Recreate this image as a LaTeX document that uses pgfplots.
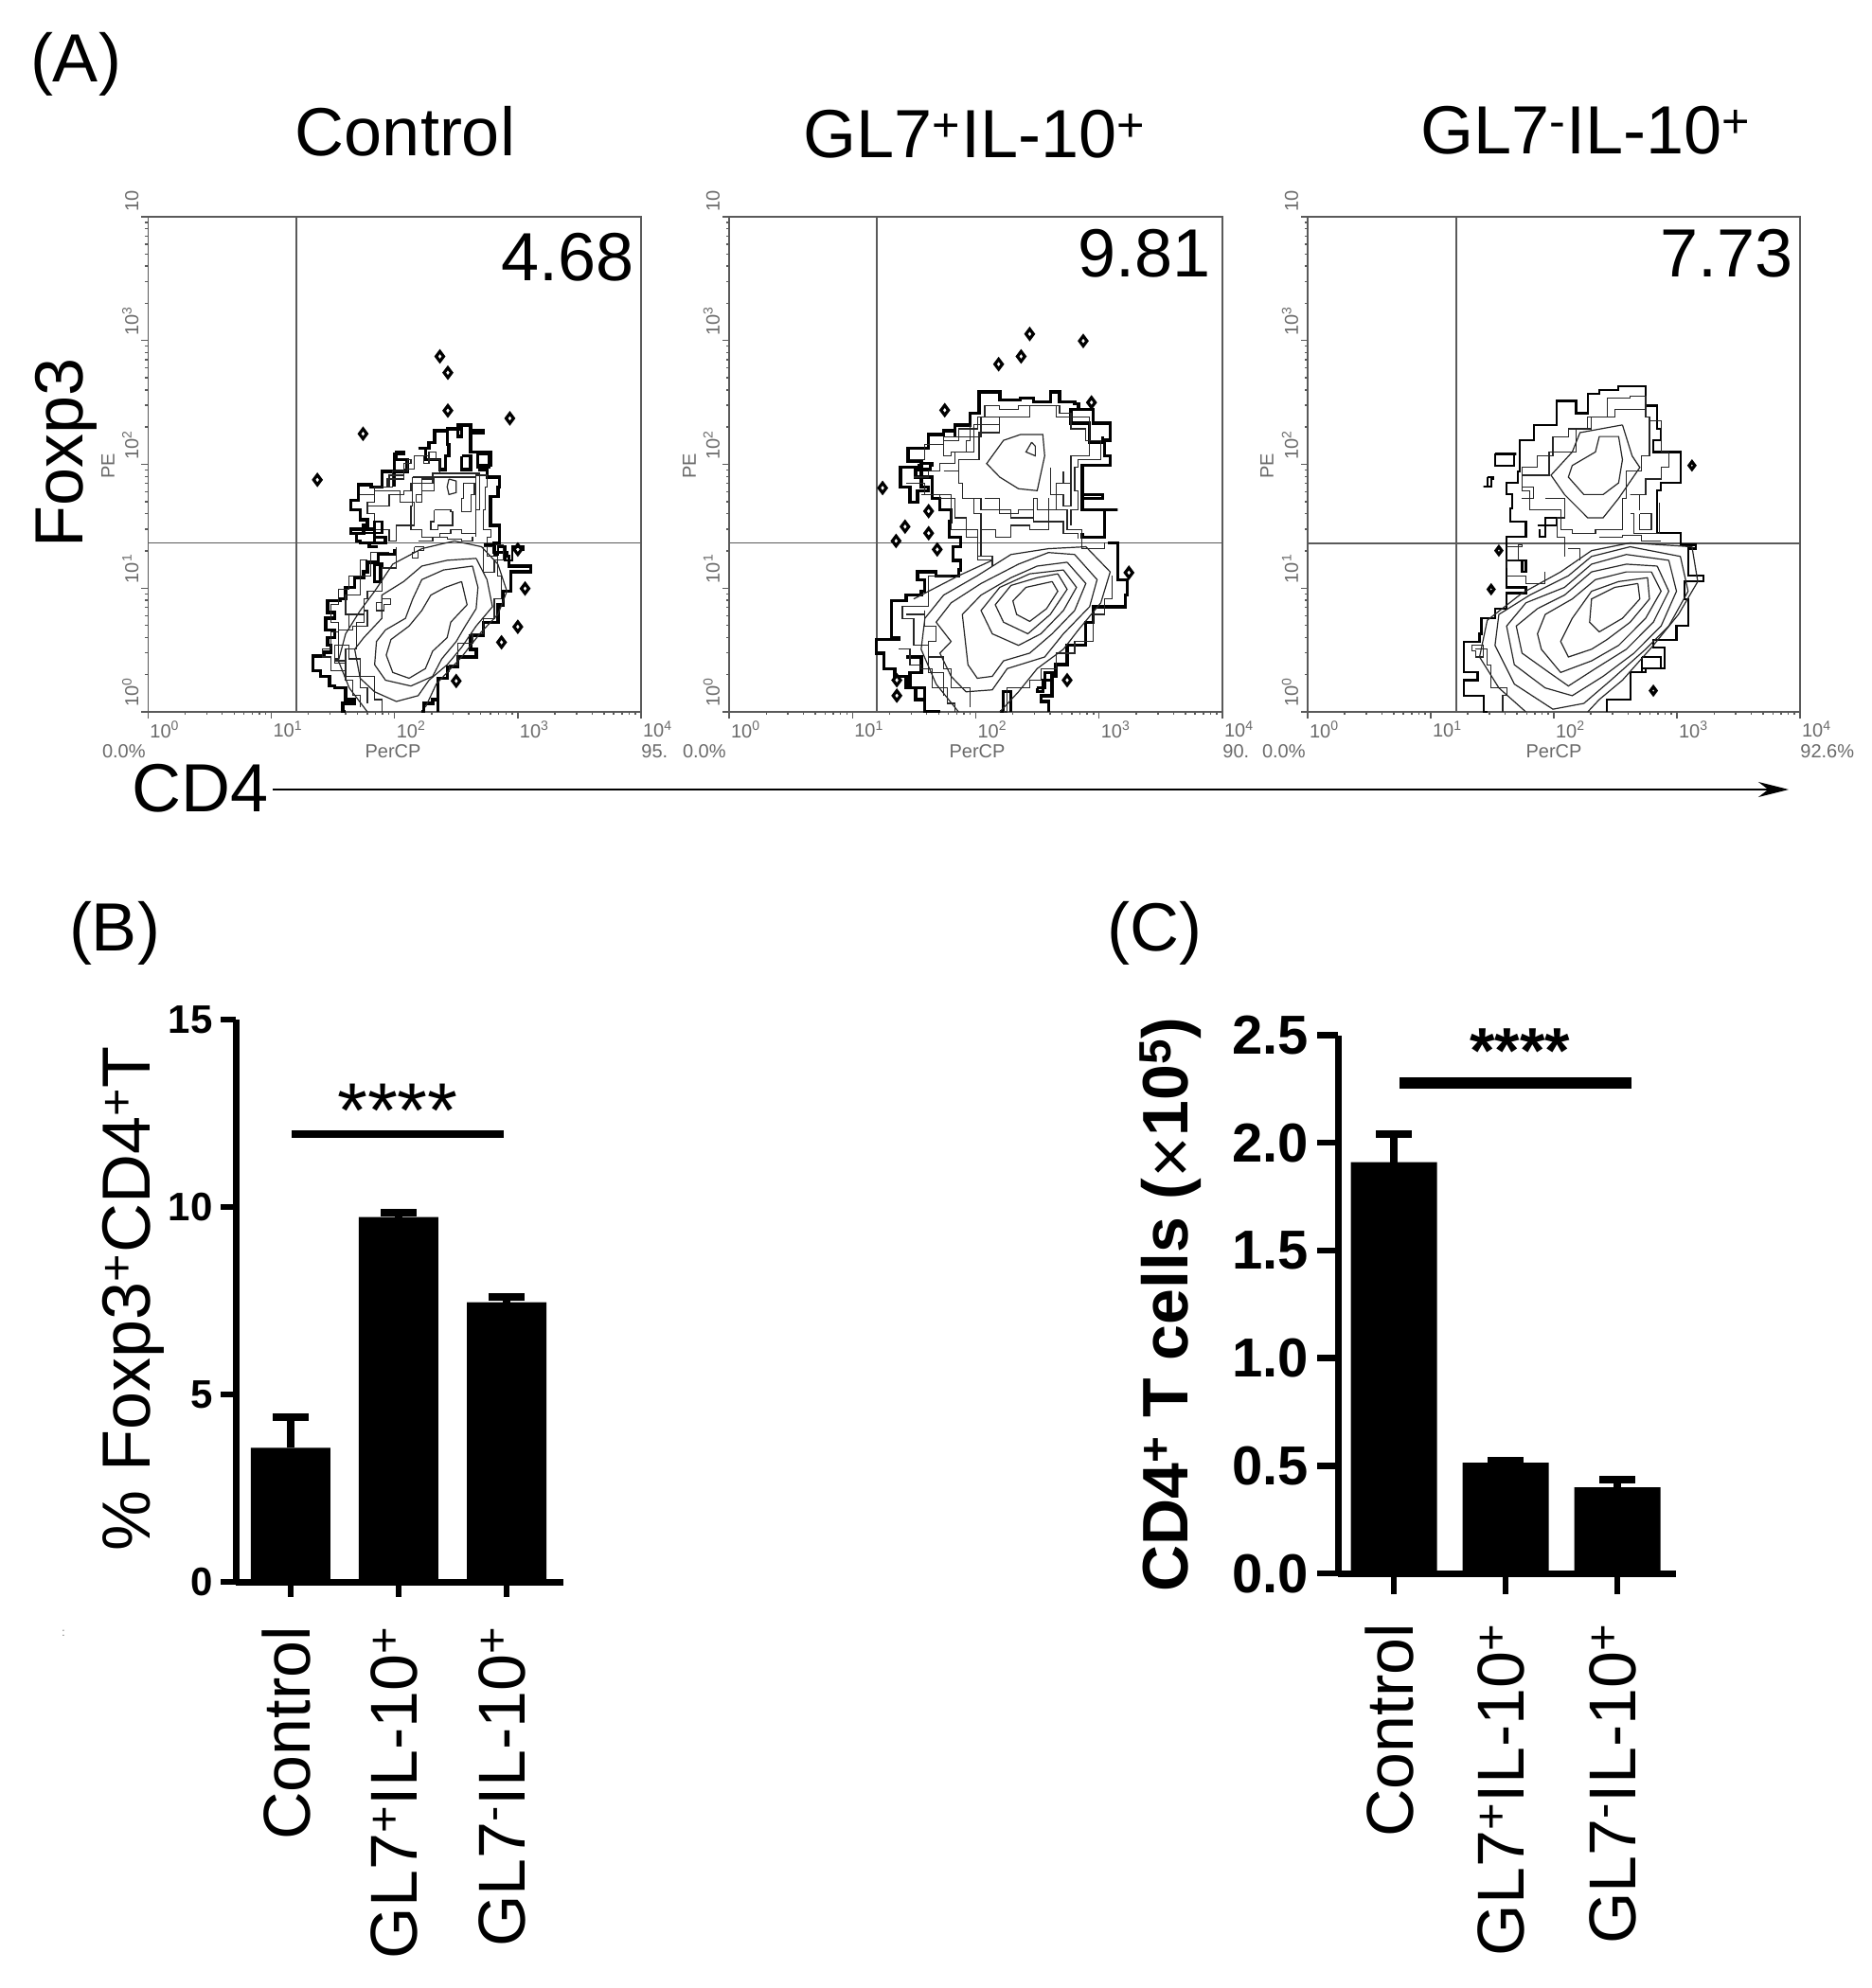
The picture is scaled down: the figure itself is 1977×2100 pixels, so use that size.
\documentclass[border=0pt]{standalone}
\usepackage{fontspec}
\setmainfont{Liberation Sans}
\usepackage{pgfplots}
\pgfplotsset{compat=1.18}
\usetikzlibrary{arrows.meta}
\definecolor{gatecol}{HTML}{5A5A5A}
\definecolor{labcol}{HTML}{6A6A6A}
\newcommand\fs[1]{\fontsize{#1bp}{#1bp}\selectfont}
\def\logminor{0.301,0.477,0.602,0.699,0.778,0.845,0.903,0.954,1.301,1.477,1.602,1.699,1.778,1.845,1.903,1.954,2.301,2.477,2.602,2.699,2.778,2.845,2.903,2.954,3.301,3.477,3.602,3.699,3.778,3.845,3.903,3.954}
\pgfplotsset{
  flow/.style={
    scale only axis,anchor=south west,
    xmin=0,xmax=4,ymin=0,ymax=4,
    xtick={0,1,2,3,4},ytick={0,1,2,3,4},
    minor xtick=\logminor,minor ytick=\logminor,
    xticklabels={10\textsuperscript{0},10\textsuperscript{1},10\textsuperscript{2},10\textsuperscript{3},10\textsuperscript{4}},
    yticklabels={10\textsuperscript{0},10\textsuperscript{1},10\textsuperscript{2},10\textsuperscript{3},10},
    xtick pos=bottom,ytick pos=left,tick align=outside,
    major tick length=3.5bp,minor tick length=1.5bp,
    tick style={gatecol,line width=0.7bp},
    axis line style={gatecol,line width=0.9bp},
    xticklabel style={font=\fs{10},text=labcol,anchor=north west,xshift=-2.5bp,yshift=2bp},
    yticklabel style={font=\fs{10},text=labcol,rotate=90,anchor=south west,xshift=-1bp,yshift=-2bp},
  },
  gate/.style={gatecol,line width=0.9bp,forget plot},
  edge/.style={black,line width=1.7bp,line join=miter,const plot,forget plot},
  frag/.style={black!85,line width=0.6bp,const plot,forget plot},
  cont/.style={black!85,line width=0.6bp,forget plot},
  dots/.style={only marks,mark=diamond,mark size=2.6bp,mark options={black,line width=1.6bp},forget plot},
  prism/.style={
    scale only axis,anchor=south west,
    axis lines=left,axis line style={-,line width=3.5bp},
    ymin=0,clip=false,
    xtick={0,1,2},
    xticklabels={Control,GL7\textsuperscript{+}IL-10\textsuperscript{+},GL7\textsuperscript{-}IL-10\textsuperscript{+}},
    tick align=outside,major tick length=8bp,
    tick style={black,line width=3.2bp},
    % the shifts of a turned label run along the turned text
    xticklabel style={font=\fs{35},rotate=90,anchor=east,xshift=-12bp,yshift=2.4bp},
  },
}
\begin{document}
\begin{tikzpicture}[x=0.5bp,y=-0.5bp]
\useasboundingbox (0,0) rectangle (1977,2100);

% panel A, contour traces typed in pixels of the enlarged crop, filters turn them into decades
\begin{axis}[flow,at={(78.2bp,-376bp)},width=260.3bp,height=261.5bp,
  x filter/.expression={(x-95)/340},y filter/.expression={(1352-y)/320}]
\addplot[gate] coordinates {(505,72)(505,1352)};
\addplot[gate] coordinates {(95,915)(1455,915)};
\addplot[edge] coordinates {(640,1352)(632,1330)(665,1320)(640,1290)(610,1285)(595,1260)(570,1245)(550,1208)(580,1198)(600,1180)(590,1160)(610,1140)(585,1110)(610,1095)(590,1065)(625,1060)(640,1030)(665,1005)(690,990)(700,965)(730,945)(775,930)};
\addplot[edge] coordinates {(730,925)(705,915)(750,900)(720,880)(655,890)(690,870)(700,855)(680,830)(655,805)(675,765)(710,770)(740,730)(775,685)(800,680)(780,700)(810,730)(775,770)};
\addplot[edge] coordinates {(840,670)(870,655)(885,625)(920,620)(960,640)(950,610)(985,625)(1020,630)(985,650)(985,680)(1040,690)(1040,715)(1010,725)(1030,745)(1065,770)(1060,795)(1040,810)(1040,870)(1065,890)(1065,915)(1050,940)(1085,950)(1090,975)(1150,990)(1095,1005)(1095,1040)(1075,1075)(1060,1120)(1020,1155)(985,1190)(1000,1210)(950,1235)(920,1265)(895,1290)(895,1352)};
\addplot[edge] coordinates {(840,670)(860,700)(900,725)(915,690)(925,660)(920,620)};
\addplot[edge] coordinates {(720,970)(740,975)(735,1015)(720,1010)(720,970)};
\addplot[edge] coordinates {(960,690)(985,690)(985,725)(960,725)(960,690)};
\addplot[edge] coordinates {(1005,685)(1040,690)(1035,720)(1010,720)(1005,685)};
\addplot[edge] coordinates {(850,1352)(855,1330)(880,1320)(895,1300)};
\addplot[cont] coordinates {(960,1015)(975,1075)(930,1120)(920,1160)(880,1195)(860,1240)(815,1265)(770,1250)(752,1205)(765,1165)(815,1130)(850,1090)(875,1050)(915,1030)(960,1015)};
\addplot[cont] coordinates {(990,975)(1005,1030)(1000,1085)(970,1130)(945,1170)(905,1215)(880,1260)(820,1285)(750,1270)(720,1230)(725,1170)(750,1140)(805,1110)(825,1060)(850,1010)(910,985)(990,975)};
\addplot[cont] coordinates {(1000,955)(1030,1010)(1045,1080)(1000,1130)(960,1185)(920,1230)(870,1270)(840,1310)(780,1325)(720,1300)(680,1265)(665,1190)(690,1160)(740,1110)(740,1050)(800,1015)(850,975)(920,960)(1000,955)};
\addplot[cont] coordinates {(860,1340)(890,1280)(960,1210)(1010,1150)(1060,1100)(1085,1040)(1060,970)(1015,925)(940,910)(850,930)(770,970)(720,1040)(680,1090)(640,1150)(620,1220)(650,1290)(700,1352)};
\addplot[frag] coordinates {(650,1100)(690,1090)(700,1130)(660,1140)(650,1100)};
\addplot[frag] coordinates {(620,1180)(650,1190)(640,1225)(610,1215)(620,1180)};
\addplot[frag] coordinates {(740,1060)(765,1075)(745,1090)(725,1070)(740,1060)};
\addplot[frag] coordinates {(830,925)(855,935)(840,955)(825,940)(830,925)};
\addplot[frag] coordinates {(1020,925)(1045,920)(1075,960)(1050,990)(1020,925)};
\addplot[frag] coordinates {(825,745)(930,745)(990,745)(1000,800)(1000,890)(960,880)(930,890)(900,900)(850,880)(820,820)(825,745)};
\addplot[cont] coordinates {(925,750)(945,755)(945,785)(925,790)(920,770)(925,750)};
\addplot[frag] coordinates {(885,830)(930,835)(935,870)(895,880)(875,860)(885,830)};
\addplot[frag] coordinates {(720,780)(790,810)(830,870)(780,910)(760,880)(720,840)(700,810)(720,780)};
\addplot[frag] coordinates {(850,750)(880,745)(885,780)(850,810)(835,790)(850,750)};
\addplot[frag] coordinates {(965,760)(995,790)(985,835)(960,800)(965,760)};
\addplot[frag] coordinates {(800,710)(820,700)(810,730)(770,770)(755,750)(800,710)};
\addplot[frag] coordinates {(870,680)(890,700)(870,710)(855,690)(870,680)};
\addplot[frag] coordinates {(680,790)(720,770)(760,740)(800,725)(830,690)(870,700)(900,735)(950,735)(1000,740)(1030,770)(1025,830)(1020,880)(1040,900)(1030,950)(1060,1000)(1070,1060)(1050,1110)(1020,1150)(990,1175)(950,1230)(925,1250)};
\addplot[frag] coordinates {(700,960)(680,1000)(650,1035)(620,1075)(600,1120)(620,1145)(600,1190)(575,1210)(600,1245)(640,1270)(660,1310)(680,1340)};
\addplot[frag] coordinates {(760,940)(710,1000)(680,1050)(640,1100)(650,1140)(620,1180)(610,1220)(640,1260)(680,1290)(700,1330)};
\addplot[frag] coordinates {(780,925)(780,980)(740,1040)(700,1060)(690,1120)(670,1190)(650,1215)(680,1260)(720,1320)(740,1352)};
\addplot[frag] coordinates {(700,820)(760,790)(800,780)(820,760)(880,735)(990,735)(1010,770)(1010,830)(1000,900)};
\addplot[edge,line width=1.2bp] coordinates {(670,890)(720,860)(740,890)(720,915)(680,910)(670,890)};
\addplot[frag] coordinates {(840,910)(880,900)(920,905)(960,910)(990,900)};
\addplot[edge,line width=1.2bp] coordinates {(1020,920)(1050,945)(1060,925)(1080,960)(1100,925)(1130,935)};
\addplot[dots] coordinates {(900,433)(922,475)(922,573)(1093,593)(688,633)(562,752)(1115,932)(1135,1033)(1115,1132)(1070,1172)(945,1272)};
\end{axis}

\begin{axis}[flow,at={(385bp,-376bp)},width=260.5bp,height=261.5bp,
  x filter/.expression={(x-127)/329.5},y filter/.expression={(1352-y)/320}]
\addplot[gate] coordinates {(522,72)(522,1352)};
\addplot[gate] coordinates {(127,915)(1445,915)};
\addplot[edge] coordinates {(690,1352)(650,1320)(625,1290)(600,1260)(570,1240)(540,1200)(520,1165)(580,1160)(560,1130)(560,1065)(600,1050)(640,1040)(650,1010)(630,990)(680,1000)(740,985)(745,960)(725,925)(745,900)(715,860)(720,830)(690,800)(670,745)(625,720)(585,730)(585,770)(610,810)(630,780)(660,770)(640,705)(605,670)(660,635)(700,625)(730,640)(730,610)(770,580)(795,575)(795,525)(850,525)(850,545)(905,540)(940,550)(985,525)(1010,550)(1050,555)(1060,570)(1100,605)(1145,650)(1130,690)(1145,715)(1070,740)(1070,800)(1125,790)(1070,830)(1165,830)(1130,850)(1130,900)(1070,890)};
\addplot[edge] coordinates {(1140,915)(1165,960)(1165,1010)(1190,1050)(1185,1080)(1140,1080)(1100,1120)(1080,1180)(1040,1180)(1030,1230)(1000,1260)(990,1310)(960,1325)(980,1352)};
\addplot[edge] coordinates {(635,710)(670,715)(665,725)(635,725)(635,710)};
\addplot[edge] coordinates {(1060,570)(1040,605)(1090,655)(1125,640)};
\addplot[edge] coordinates {(850,1352)(860,1300)(880,1352)};
\addplot[edge] coordinates {(600,1210)(640,1250)(610,1290)(650,1320)};
\addplot[edge] coordinates {(950,1290)(970,1250)(990,1270)(965,1300)(950,1290)};
\addplot[cont] coordinates {(990,1015)(1005,1040)(975,1085)(930,1118)(895,1100)(885,1065)(920,1030)(990,1015)};
\addplot[cont] coordinates {(1005,995)(1030,1035)(985,1100)(925,1150)(860,1120)(838,1075)(880,1025)(950,1005)(1005,995)};
\addplot[cont] coordinates {(1020,985)(1055,1030)(1020,1090)(960,1150)(900,1180)(830,1150)(800,1090)(850,1030)(930,995)(1020,985)};
\addplot[cont] coordinates {(1030,965)(1080,1020)(1050,1090)(990,1150)(930,1200)(860,1220)(830,1260)(790,1265)(765,1230)(750,1100)(800,1050)(880,1005)(950,975)(1030,965)};
\addplot[cont] coordinates {(1050,945)(1110,1010)(1090,1080)(1020,1150)(970,1210)(870,1240)(830,1295)(760,1300)(720,1260)(690,1200)(720,1170)(680,1120)(720,1070)(800,1020)(900,970)(980,940)(1050,945)};
\addplot[cont] coordinates {(850,1352)(900,1300)(950,1240)(1020,1190)(1060,1140)(1120,1070)(1145,990)(1080,925)(980,930)(880,945)(790,1000)(700,1050)(650,1110)(640,1190)(680,1280)(740,1352)};
\addplot[cont] coordinates {(905,635)(965,635)(970,690)(950,780)(900,775)(850,745)(815,710)(860,650)(905,635)};
\addplot[cont] coordinates {(935,655)(945,665)(945,690)(920,680)(935,655)};
\addplot[frag] coordinates {(930,560)(1000,590)(1090,690)(1040,760)(1000,830)(950,800)(940,850)(880,830)(800,800)(750,760)(740,700)(795,630)(850,590)(930,560)};
\addplot[frag] coordinates {(800,590)(850,610)(780,680)(720,690)(700,640)(800,590)};
\addplot[frag] coordinates {(600,760)(650,790)(720,880)(790,960)(830,950)(800,880)};
\addplot[frag] coordinates {(1000,830)(1030,880)(1070,930)(1130,915)};
\addplot[frag] coordinates {(720,1000)(660,1080)(590,1110)(620,1180)(660,1250)(700,1310)};
\addplot[frag] coordinates {(610,700)(650,660)(700,650)(740,620)(790,590)(810,560)(850,570)(900,560)(960,560)(1010,580)(1040,620)(1080,650)(1120,670)(1120,700)(1060,720)(1050,780)(1060,830)(1040,870)};
\addplot[frag] coordinates {(620,745)(660,730)(690,710)(730,680)(760,650)(770,610)};
\addplot[frag] coordinates {(640,790)(690,800)(730,850)(760,900)(790,950)(830,975)};
\addplot[frag] coordinates {(700,730)(740,760)(750,800)(780,840)(800,880)(840,900)(880,870)(930,880)(980,860)(1020,890)(1060,905)};
\addplot[frag] coordinates {(810,800)(850,840)(900,830)(940,860)(980,800)};
\addplot[frag] coordinates {(985,720)(985,790)(1020,820)(1040,760)(1020,730)};
\addplot[frag] coordinates {(580,1190)(610,1230)(640,1240)(670,1290)(710,1330)(730,1352)};
\addplot[frag] coordinates {(600,1100)(650,1090)(650,1130)(680,1170)(660,1210)(700,1240)(720,1290)(770,1340)};
\addplot[cont] coordinates {(620,1060)(700,1020)(740,1000)(830,960)};
\addplot[frag] coordinates {(860,1352)(870,1290)(930,1270)(960,1240)(1000,1200)(1050,1170)(1100,1100)(1130,1060)(1150,1000)};
\addplot[dots] coordinates {(930,375)(1073,393)(907,433)(847,453)(703,572)(1095,552)(537,773)(660,833)(597,873)(660,890)(573,910)(683,932)(1195,992)(575,1310)(1030,1270)(575,1270)};
\end{axis}

\begin{axis}[flow,at={(690.5bp,-376bp)},width=260bp,height=261.5bp,
  x filter/.expression={(x-125)/318.75},y filter/.expression={(1352-y)/320}]
\addplot[gate] coordinates {(509,72)(509,1352)};
\addplot[gate] coordinates {(125,916)(1400,916)};
\addplot[edge,line width=1.1bp] coordinates {(590,1352)(580,1310)(540,1310)(530,1270)(565,1250)(530,1195)(530,1170)(570,1150)(575,1110)(610,1085)(640,1045)(690,1030)(640,985)(640,960)(680,990)(690,960)(640,900)(690,900)(690,860)(650,825)(655,790)(640,760)(670,730)(675,650)(700,650)(710,610)(770,590)(770,548)(820,580)(850,530)(880,520)(930,510)(1000,525)(1000,560)(1030,620)(1040,650)(1020,680)(1090,720)(1090,760)(1040,780)(1030,810)(1030,890)(1090,920)(1130,930)(1110,1000)(1150,1015)(1100,1060)(1110,1130)(1080,1165)(1020,1185)(1050,1240)(990,1250)(960,1290)(960,1320)(900,1352)};
\addplot[edge,line width=1.1bp] coordinates {(610,685)(665,685)(660,715)(625,715)(610,685)};
\addplot[edge,line width=1.1bp] coordinates {(590,745)(605,750)(600,770)(580,770)(590,745)};
\addplot[edge,line width=1.1bp] coordinates {(720,870)(770,850)(740,900)(725,880)};
\addplot[edge,line width=1.1bp] coordinates {(990,1210)(1030,1210)(1040,1240)(1000,1250)(990,1210)};
\addplot[cont] coordinates {(980,1020)(985,1060)(940,1110)(880,1145)(855,1120)(860,1060)(920,1030)(980,1020)};
\addplot[cont] coordinates {(1005,1005)(1010,1060)(960,1120)(900,1165)(860,1190)(800,1210)(780,1170)(810,1110)(860,1040)(930,1015)(1005,1005)};
\addplot[cont] coordinates {(1015,990)(1040,1040)(1000,1110)(930,1180)(860,1220)(780,1250)(730,1190)(720,1150)(740,1100)(810,1060)(870,1010)(950,990)(1015,990)};
\addplot[cont] coordinates {(1030,975)(1060,1040)(1020,1120)(950,1190)(870,1240)(800,1285)(750,1250)(680,1200)(665,1130)(720,1085)(790,1050)(860,990)(950,970)(1030,975)};
\addplot[cont] coordinates {(1060,960)(1080,1040)(1040,1130)(970,1200)(890,1260)(810,1310)(740,1290)(660,1230)(640,1130)(690,1070)(790,1030)(860,970)(950,945)(1060,960)};
\addplot[cont] coordinates {(1090,950)(1110,1040)(1060,1130)(1000,1190)(910,1270)(840,1330)(760,1345)(660,1280)(610,1180)(620,1100)(700,1050)(800,1000)(860,950)(960,925)(1090,950)};
\addplot[cont] coordinates {(850,1352)(880,1320)(940,1270)(1020,1180)(1085,1100)(1135,1015)(1120,925)(960,915)(860,935)(780,990)(680,1045)(590,1115)(570,1210)(620,1290)(690,1352)};
\addplot[cont] coordinates {(880,640)(930,640)(940,700)(930,760)(890,790)(840,790)(800,745)(810,715)(870,680)(880,640)};
\addplot[cont] coordinates {(940,610)(965,690)(985,720)(930,800)(890,850)(850,850)(790,790)(755,740)(810,680)(830,630)(940,610)};
\addplot[frag] coordinates {(920,570)(1000,590)(1010,690)(990,730)(950,800)(940,880)(870,890)(810,880)(780,830)(700,780)(680,740)(750,680)(820,620)(860,590)(920,570)};
\addplot[frag] coordinates {(985,840)(1015,840)(1015,880)(985,880)(985,840)};
\addplot[frag] coordinates {(680,800)(710,770)(680,720)(720,690)(760,640)(800,620)(850,590)(900,540)(960,535)(1000,570)};
\addplot[frag] coordinates {(1010,600)(1040,680)(1060,720)(1040,750)(1000,790)(960,790)(985,830)};
\addplot[frag] coordinates {(960,840)(970,890)(1030,890)(1035,810)};
\addplot[frag] coordinates {(740,800)(790,850)(770,900)(790,950)};
\addplot[frag] coordinates {(800,930)(830,960)};
\addplot[frag] coordinates {(640,925)(680,920)(670,960)(640,980)};
\addplot[frag] coordinates {(640,1000)(690,1020)(740,990)};
\addplot[frag] coordinates {(880,900)(940,895)(990,910)(1040,910)};
\addplot[frag] coordinates {(560,1190)(590,1230)(600,1290)(640,1310)(630,1352)};
\addplot[frag] coordinates {(580,1180)(550,1195)(560,1210)(580,1180)};
\addplot[dots,mark size=2bp] coordinates {(1120,715)(1020,1297)(600,1035)(620,935)};
\end{axis}

% panel B
\begin{axis}[prism,at={(124.7bp,-835.5bp)},width=172.55bp,height=297bp,
  xmin=-0.505,xmax=2.522,ymax=15,
  ytick={0,5,10,15},yticklabels={0,5,10,15},
  yticklabel style={font=\fs{21}\bfseries,xshift=-1bp}]
\addplot[ybar,bar width=42bp,fill=black,draw=none,
  error bars/.cd,y dir=plus,y explicit,
  error bar style={draw=black,line width=4bp},
  error mark options={draw=black,line width=4.2bp,mark size=9.5bp,rotate=90}]
  coordinates {(0,3.58) +- (0,0.81) (1,9.73) +- (0,0.12) (2,7.46) +- (0,0.14)};
\addplot[black,line width=4bp] coordinates {(0.01,11.94)(1.974,11.94)};
\end{axis}

% panel C
\begin{axis}[prism,at={(706.5bp,-831bp)},width=178.5bp,height=284.25bp,
  xmin=-0.5,xmax=2.525,ymax=2.5,
  ytick={0,0.5,1,1.5,2,2.5},yticklabels={0.0,0.5,1.0,1.5,2.0,2.5},
  major tick length=11bp,
  yticklabel style={font=\fs{29}\bfseries,xshift=-1bp}]
\addplot[ybar,bar width=45.5bp,fill=black,draw=none,
  error bars/.cd,y dir=plus,y explicit,
  error bar style={draw=black,line width=4bp},
  error mark options={draw=black,line width=4.2bp,mark size=9.5bp,rotate=90}]
  coordinates {(0,1.91) +- (0,0.13) (1,0.514) +- (0,0.007) (2,0.40) +- (0,0.035)};
\addplot[black,line width=6bp] coordinates {(0.05,2.28)(2.127,2.28)};
\end{axis}

% panel letters and headings
\node[anchor=base,font=\fs{36}] at (80,87) {(A)};
\node[anchor=base,font=\fs{36}] at (121,1004) {(B)};
\node[anchor=base,font=\fs{36}] at (1219,1004) {(C)};
\node[anchor=base,font=\fs{36}] at (428,165) {Control};
\node[anchor=base,font=\fs{36}] at (1029,167) {GL7\textsuperscript{+}IL-10\textsuperscript{+}};
\node[anchor=base,font=\fs{36}] at (1675,163) {GL7\textsuperscript{-}IL-10\textsuperscript{+}};
\node[anchor=base east,font=\fs{36}] at (677,296) {4.68};
\node[anchor=base east,font=\fs{36}] at (1286,292) {9.81};
\node[anchor=base east,font=\fs{36}] at (1901,292) {7.73};
\node[anchor=base,rotate=90,font=\fs{36}] at (87,478) {Foxp3};
\node[anchor=base west,inner sep=0pt,font=\fs{36}] at (139,857) {CD4};
\draw[line width=1.1bp,-{Stealth[length=16bp,width=8bp]}] (288,834) -- (1889,834);

% small cytometer captions
\foreach \xa/\xb/\xc/\tr in {154/415/677/95.,767/1032/1291/90.,1379/1641/1901/92.6\%}{
  \node[anchor=base east,inner sep=0pt,font=\fs{10},text=labcol] at (\xa,800) {0.0\%};
  \node[anchor=base,inner sep=0pt,font=\fs{10},text=labcol] at (\xb,800) {PerCP};
  \node[anchor=base west,inner sep=0pt,font=\fs{10},text=labcol] at (\xc,800) {\tr};
}
\foreach \xa in {114,728,1338}{
  \node[rotate=90,inner sep=0pt,font=\fs{10},text=labcol] at (\xa,492) {PE};
}

% bar panel texts
\node[anchor=base,rotate=90,font=\fs{36}] at (158,1372) {\% Foxp3\textsuperscript{+}CD4\textsuperscript{+}T};
\node[anchor=base,rotate=90,font=\fs{34}\bfseries] at (1254,1378) {CD4\textsuperscript{+} T cells ({\raisebox{-3.5bp}{\mdseries\fs{37.5}×}}10\textsuperscript{5})};
\node[anchor=base,font=\fs{41}] at (420,1201) {****};
\node[anchor=base,font=\fs{34}\bfseries] at (1605,1133) {****};
\node[font=\fs{6},text=labcol] at (67,1725) {:};
\end{tikzpicture}
\end{document}
